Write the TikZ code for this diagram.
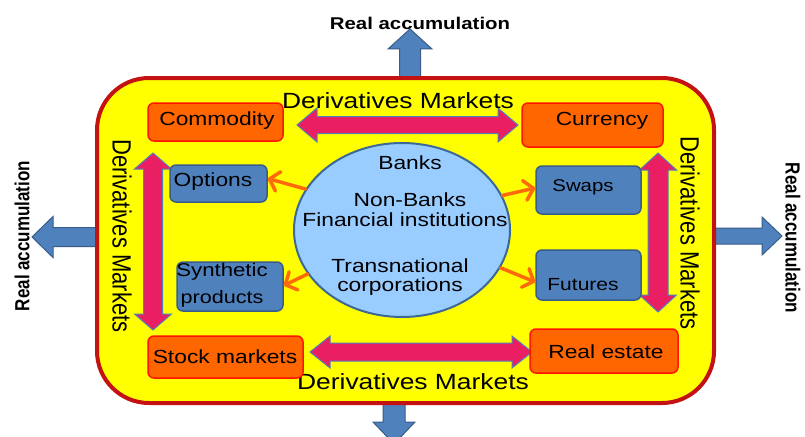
\documentclass[tikz,border=0pt]{standalone}
\usepackage{fontspec}
\setmainfont{Liberation Sans}
\usetikzlibrary{arrows.meta,shapes.geometric}
\definecolor{yel}{RGB}{255,255,0}
\definecolor{frame}{RGB}{196,18,18}
\definecolor{ofill}{RGB}{255,102,0}
\definecolor{oline}{RGB}{255,20,0}
\definecolor{bfill}{RGB}{79,129,189}
\definecolor{bline}{RGB}{56,93,138}
\definecolor{efill}{RGB}{153,204,255}
\definecolor{eline}{RGB}{60,105,150}
\definecolor{pinkc}{RGB}{233,30,99}
\definecolor{oarr}{RGB}{255,105,10}
\newcommand\hs[1]{\scalebox{1.2}[1]{#1}}
\newcommand\vs[1]{\scalebox{1}[1.2]{#1}}
% double block arrows
\newcommand\dblH[6]{% x1 x2 y t h L
 \draw[pinkarrow] (#1,#3) -- ({#1+#6},{#3-#5}) -- ({#1+#6},{#3-#4}) -- ({#2-#6},{#3-#4}) -- ({#2-#6},{#3-#5}) -- (#2,#3) -- ({#2-#6},{#3+#5}) -- ({#2-#6},{#3+#4}) -- ({#1+#6},{#3+#4}) -- ({#1+#6},{#3+#5}) -- cycle;}
\newcommand\dblV[6]{% y1 y2 x t h L
 \draw[pinkarrow] (#3,#1) -- ({#3-#5},{#1+#6}) -- ({#3-#4},{#1+#6}) -- ({#3-#4},{#2-#6}) -- ({#3-#5},{#2-#6}) -- (#3,#2) -- ({#3+#5},{#2-#6}) -- ({#3+#4},{#2-#6}) -- ({#3+#4},{#1+#6}) -- ({#3+#5},{#1+#6}) -- cycle;}
% single block arrows
\newcommand\blockH[6]{% xbase xheadbase xtip y t h
 \draw[bluearrow] (#1,{#4-#5}) -- (#2,{#4-#5}) -- (#2,{#4-#6}) -- (#3,#4) -- (#2,{#4+#6}) -- (#2,{#4+#5}) -- (#1,{#4+#5}) -- cycle;}
\newcommand\blockV[6]{% ybase yheadbase ytip x t h
 \draw[bluearrow] ({#4-#5},#1) -- ({#4-#5},#2) -- ({#4-#6},#2) -- (#4,#3) -- ({#4+#6},#2) -- ({#4+#5},#2) -- ({#4+#5},#1) -- cycle;}
\begin{document}
\begin{tikzpicture}[x=1pt,y=-1pt,
  pinkarrow/.style={fill=pinkc,draw=bfill,line width=1pt,line join=miter},
  bluearrow/.style={fill=bfill,draw=bline,line width=1pt},
  mainbox/.style={fill=yel,draw=frame,line width=4pt,rounded corners=52pt},
  obox/.style={fill=ofill,draw=oline,line width=1.5pt,rounded corners=6pt,inner sep=0pt},
  bbox/.style={fill=bfill,draw=bline,line width=1.5pt,rounded corners=6pt,inner sep=0pt},
  hub/.style={ellipse,fill=efill,draw=eline,line width=2pt,inner sep=0pt},
  lbl/.style={inner sep=0pt,text=black,font=\fontsize{19}{21}\selectfont},
  mk/.style={inner sep=0pt,text=black,font=\fontsize{22}{24}\selectfont},
  ra/.style={inner sep=0pt,text=black,font=\bfseries\fontsize{17}{19}\selectfont},
  oarrow/.style={draw=oarr,line width=3.5pt,line cap=round,-{Straight Barb[length=9pt,width=20pt,round]}}
]
\useasboundingbox (0,0) rectangle (805,436);
\clip (0,0) rectangle (805,436);
\fill[white] (0,0) rectangle (805,436);

% outward blue arrows
\blockV{90}{49}{29}{410}{10.5}{22}
\blockH{105}{53}{32}{237}{9.5}{20.5}
\blockH{705}{762}{782}{236}{8}{19}
\blockV{395}{422}{444}{394}{11}{21}

% main frame
\draw[mainbox] (97,78) rectangle (714,403);

% outer labels
\node[ra] at (420,23) {\hs{Real accumulation}};
\node[ra,rotate=90] at (22,236) {\vs{Real accumulation}};
\node[ra,rotate=-90] at (793,238) {\vs{Real accumulation}};

% pink double arrows
\dblH{297}{518}{125}{8.5}{17}{20}
\dblH{310}{532}{352}{9}{16}{20}
\dblV{153}{330}{153}{9.5}{18.5}{16}
\dblV{153}{312}{658}{10}{18.5}{17}

% Derivatives Markets labels
\node[mk] at (398,101) {\hs{Derivatives Markets}};
\node[mk] at (413,382) {\hs{Derivatives Markets}};
\node[mk,rotate=-90] at (122,236) {\vs{Derivatives Markets}};
\node[mk,rotate=-90] at (690,233) {\vs{Derivatives Markets}};

% orange boxes
\node[obox,minimum width=135pt,minimum height=38pt] (commodity) at (215.5,122) {};
\node[lbl] at (217,121) {\hs{Commodity}};
\node[obox,minimum width=141pt,minimum height=44pt] (currency) at (592.5,125) {};
\node[lbl] at (602,121) {\hs{Currency}};
\node[obox,minimum width=155pt,minimum height=42pt] (stock) at (225.5,357) {};
\node[lbl] at (225,357) {\hs{Stock markets}};
\node[obox,minimum width=148pt,minimum height=44pt] (realestate) at (604,351) {};
\node[lbl] at (606,352) {\hs{Real estate}};

% blue boxes
\node[bbox,minimum width=97pt,minimum height=37pt] (options) at (218.5,183.5) {};
\node[lbl] at (213,182) {\hs{Options}};
\node[bbox,minimum width=105pt,minimum height=48pt] (swaps) at (588.5,190) {};
\node[lbl,font=\fontsize{17}{19}\selectfont] at (583,187) {\hs{Swaps}};
\node[bbox,minimum width=105pt,minimum height=50pt] (futures) at (588.5,275) {};
\node[lbl,font=\fontsize{17.5}{19}\selectfont] at (583,285) {\hs{Futures}};
\node[bbox,minimum width=106pt,minimum height=49pt] (synthetic) at (230,286.5) {};
\node[lbl,font=\fontsize{18.5}{20}\selectfont] at (222,272) {\hs{Synthetic}};
\node[lbl,font=\fontsize{18}{20}\selectfont] at (222,299) {\hs{products}};

% central ellipse
\node[hub,minimum width=216pt,minimum height=174pt] (hub) at (402,230) {};
\node[lbl] at (410,163) {\hs{Banks}};
\node[lbl] at (410,200) {\hs{Non-Banks}};
\node[lbl] at (405,220) {\hs{Financial institutions}};
\node[lbl] at (400,266) {\hs{Transnational}};
\node[lbl] at (400,287) {\hs{corporations}};

% orange arrows
\draw[oarrow] (hub.157) -- ([yshift=5pt]options.east);
\draw[oarrow] (hub.19) -- ([yshift=2pt]swaps.west);
\draw[oarrow] (hub.205) -- ([yshift=1pt]synthetic.east);
\draw[oarrow] (hub.-21) -- ([yshift=-7pt]futures.west);
\end{tikzpicture}
\end{document}
